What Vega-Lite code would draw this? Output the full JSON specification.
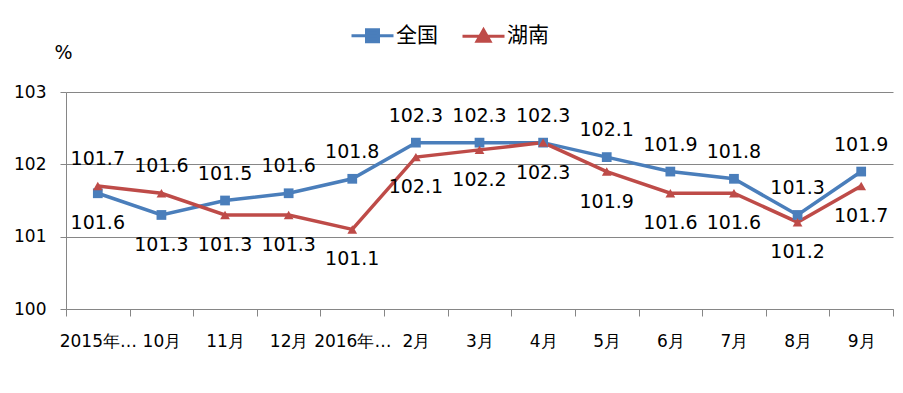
{
  "$schema": "https://vega.github.io/schema/vega-lite/v6.json",
  "width": 827,
  "height": 217,
  "autosize": {"type": "none"},
  "padding": {"left": 66, "top": 92, "right": 10, "bottom": 84},
  "background": "white",
  "config": {"font": "DejaVu Sans", "view": {"stroke": null}},
  "data": {
    "values": [
      {"month": "2015年9月", "series": "全国", "value": 101.6},
      {"month": "10月", "series": "全国", "value": 101.3},
      {"month": "11月", "series": "全国", "value": 101.5},
      {"month": "12月", "series": "全国", "value": 101.6},
      {"month": "2016年1月", "series": "全国", "value": 101.8},
      {"month": "2月", "series": "全国", "value": 102.3},
      {"month": "3月", "series": "全国", "value": 102.3},
      {"month": "4月", "series": "全国", "value": 102.3},
      {"month": "5月", "series": "全国", "value": 102.1},
      {"month": "6月", "series": "全国", "value": 101.9},
      {"month": "7月", "series": "全国", "value": 101.8},
      {"month": "8月", "series": "全国", "value": 101.3},
      {"month": "9月", "series": "全国", "value": 101.9},
      {"month": "2015年9月", "series": "湖南", "value": 101.7},
      {"month": "10月", "series": "湖南", "value": 101.6},
      {"month": "11月", "series": "湖南", "value": 101.3},
      {"month": "12月", "series": "湖南", "value": 101.3},
      {"month": "2016年1月", "series": "湖南", "value": 101.1},
      {"month": "2月", "series": "湖南", "value": 102.1},
      {"month": "3月", "series": "湖南", "value": 102.2},
      {"month": "4月", "series": "湖南", "value": 102.3},
      {"month": "5月", "series": "湖南", "value": 101.9},
      {"month": "6月", "series": "湖南", "value": 101.6},
      {"month": "7月", "series": "湖南", "value": 101.6},
      {"month": "8月", "series": "湖南", "value": 101.2},
      {"month": "9月", "series": "湖南", "value": 101.7}
    ]
  },
  "transform": [
    {"joinaggregate": [{"op": "max", "field": "value", "as": "vmax"}, {"op": "min", "field": "value", "as": "vmin"}], "groupby": ["month"]}
  ],
  "encoding": {
    "x": {
      "field": "month", "type": "ordinal", "sort": null,
      "scale": {"type": "band", "paddingInner": 0, "paddingOuter": 0},
      "axis": {
        "title": null, "labelAngle": 0, "labelFontSize": 17, "labelColor": "#000000",
        "labelLimit": 82, "tickBand": "extent", "tickSize": 7, "tickColor": "#868686",
        "domainColor": "#868686", "labelPadding": 17, "grid": false
      }
    },
    "y": {
      "field": "value", "type": "quantitative",
      "scale": {"domain": [100, 103], "zero": false, "nice": false},
      "axis": {
        "values": [100, 101, 102, 103], "format": "d", "grid": true, "gridColor": "#868686",
        "domainColor": "#868686", "tickColor": "#868686", "tickSize": 6, "labelPadding": 14,
        "labelFontSize": 17, "labelColor": "#000000",
        "title": "%", "titleAngle": 0, "titleX": -3, "titleY": -40, "titleAlign": "center",
        "titleBaseline": "middle", "titleFontSize": 19, "titleFontWeight": "normal", "titleColor": "#000000"
      }
    },
    "color": {
      "field": "series", "type": "nominal",
      "scale": {"domain": ["全国", "湖南"], "range": ["#4a7ebb", "#be4b48"]},
      "legend": {
        "orient": "none", "legendX": 296, "legendY": -67, "direction": "horizontal", "title": null,
        "symbolType": "M-4.2,0H4.2M-1.2,-1.2H1.2V1.2H-1.2Z",
        "symbolSize": 100, "symbolStrokeWidth": 3, "labelFontSize": 21, "labelFont": "Noto Sans CJK SC",
        "labelColor": "#000000", "labelOffset": 13, "columnPadding": 18,
        "encode": {
          "symbols": {
            "update": {
              "shape": {"signal": "datum.value === '全国' ? 'M-4.2,0H4.2M-1.2,-1.2H1.2V1.2H-1.2Z' : 'M-4.2,0H4.2M0,-1.3L1.3,1H-1.3Z'"},
              "fill": {"signal": "datum.value === '全国' ? '#4a7ebb' : '#be4b48'"},
              "stroke": {"signal": "datum.value === '全国' ? '#4a7ebb' : '#be4b48'"},
              "opacity": {"value": 1}
            }
          }
        }
      }
    }
  },
  "layer": [
    {"mark": {"type": "line", "strokeWidth": 3.5}},
    {
      "transform": [{"filter": "datum.series == '全国'"}],
      "mark": {"type": "point", "filled": true, "size": 95, "opacity": 1, "shape": "square"}
    },
    {
      "transform": [{"filter": "datum.series == '湖南'"}],
      "mark": {"type": "point", "filled": true, "size": 95, "opacity": 1, "shape": "triangle-up"}
    },
    {
      "transform": [{"filter": "(datum.series == '全国' && datum.value >= datum.vmax) || (datum.series == '湖南' && datum.value > datum.vmin)"}],
      "mark": {"type": "text", "fontSize": 19, "dy": -27, "baseline": "middle", "color": "#000000"},
      "encoding": {"text": {"field": "value", "type": "quantitative", "format": ".1f"}, "color": {"value": "#000000"}}
    },
    {
      "transform": [{"filter": "!((datum.series == '全国' && datum.value >= datum.vmax) || (datum.series == '湖南' && datum.value > datum.vmin))"}],
      "mark": {"type": "text", "fontSize": 19, "dy": 30, "baseline": "middle", "color": "#000000"},
      "encoding": {"text": {"field": "value", "type": "quantitative", "format": ".1f"}, "color": {"value": "#000000"}}
    }
  ]
}
